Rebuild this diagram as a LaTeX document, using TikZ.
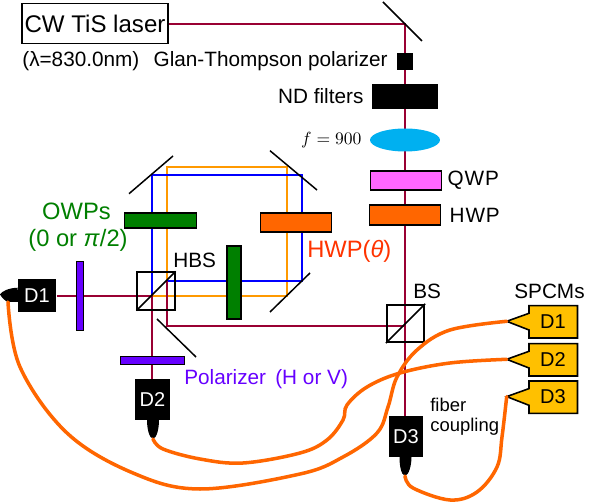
\documentclass[tikz,border=0pt]{standalone}
\usepackage[no-math]{fontspec}
\setmainfont{Liberation Sans}
\usepackage{xcolor}
\usepackage{tikz}
\usetikzlibrary{shapes.geometric, positioning, backgrounds, calc}
\definecolor{beamred}{HTML}{990033}
\definecolor{fibre}{HTML}{FF6600}
\definecolor{owpgreen}{HTML}{007F00}
\definecolor{polviolet}{HTML}{6600FF}
\definecolor{spcmyellow}{HTML}{FFC000}
\definecolor{lensblue}{HTML}{00B0F0}
\definecolor{armorange}{HTML}{FF9900}
\definecolor{armblue}{HTML}{0000FF}
\definecolor{qwppink}{HTML}{FF66FF}
\definecolor{hwpred}{HTML}{FF3300}
\tikzset{
  optic/.style={rectangle, inner sep=0pt, draw=black, line width=1.1pt},
  blackbox/.style={rectangle, inner sep=0pt, fill=black},
  detector/.style={blackbox, text=white, font=\fontsize{11.4}{13}\selectfont},
  cube/.style={rectangle, inner sep=0pt, draw=black, line width=1pt, minimum width=0.75cm, minimum height=0.75cm},
  mirror/.style={line width=0.85pt, black},
  beam/.style={beamred, line width=1.1pt},
  armline/.style={line width=1.1pt, line join=miter},
  fiber/.style={fibre, line width=2pt, line cap=round},
  spcm/.style={draw=black, fill=spcmyellow, line width=0.9pt, line join=miter},
  label/.style={inner sep=0pt, font=\fontsize{11.8}{14}\selectfont},
  biglabel/.style={inner sep=0pt, font=\fontsize{13.5}{16}\selectfont}
}
\begin{document}
\begin{tikzpicture}[x=0.02cm, y=-0.02cm]
\useasboundingbox (0,0) rectangle (599,503);
% Laser and input line
\node[rectangle, draw=black, line width=0.9pt, inner sep=0pt, minimum width=2.92cm, minimum height=0.8cm, font=\fontsize{13.7}{16}\selectfont] (laser) at (95,23.5) {CW TiS laser};
\node[blackbox, minimum width=0.33cm, minimum height=0.34cm] (gt) at (405,61.5) {};
\node[blackbox, minimum width=1.32cm, minimum height=0.5cm] (nd) at (405,96.5) {};
\node[ellipse, inner sep=0pt, fill=lensblue, minimum width=1.4cm, minimum height=0.46cm] (lens) at (405,140) {};
\node[optic, fill=qwppink, minimum width=1.42cm, minimum height=0.37cm] (qwp) at (406,180.5) {};
\node[optic, fill=fibre, minimum width=1.42cm, minimum height=0.39cm] (hwp) at (405,215) {};
\node[cube] (bs) at (405.5,323.5) {};
\draw[mirror] (bs.south west) -- (bs.north east);
\draw[mirror] (383,2) -- (422,41);

\node[label, anchor=west] (lam) at (22,61) {(λ=830.0nm)};
\node[label, left=4.8pt of gt] (gtlabel) {Glan-Thompson polarizer};
\node[label, left=4.5pt of nd] (ndlabel) {ND filters};
\node[left=4.5pt of lens, inner sep=0pt, font=\fontsize{9.7}{12}\selectfont] (flabel) {$f=900$};
\node[label, right=2.8pt of qwp, font=\fontsize{11.8}{14}\selectfont\addfontfeatures{LetterSpace=4}] (qwplabel) {QWP};
\node[label, right=4.5pt of hwp, font=\fontsize{11.8}{14}\selectfont\addfontfeatures{LetterSpace=4}] (hwplabel) {HWP};
\node[label, anchor=west] (bslabel) at (413,291) {BS};

% Interferometer
\node[optic, fill=owpgreen, minimum width=1.44cm, minimum height=0.29cm] (owpa) at (160.5,220.5) {};
\node[optic, fill=owpgreen, minimum width=0.27cm, minimum height=1.45cm] (owpb) at (234,282.5) {};
\node[optic, fill=fibre, minimum width=1.42cm, minimum height=0.38cm] (hwpt) at (296,222.5) {};
\node[cube] (hbs) at (156,291) {};
\draw[mirror] (hbs.south west) -- (hbs.north east);
\draw[mirror] (129,193.7) -- (173,156);
\draw[mirror] (270,150.7) -- (317,190);
\draw[mirror] (270,312) -- (310,273);
\draw[mirror] (157,319) -- (196,357);
\coordinate (topr) at (405,24);
\coordinate (bsin) at (166.7,326);
\coordinate (hbsr) at (166.7,281);
\coordinate (hbsl) at (152,296);
\coordinate (armt) at (152,175);

\node[biglabel, text=owpgreen, anchor=center] (owplabel) at (76.5,211) {OWPs};
\node[biglabel, text=owpgreen, anchor=center] (owpval) at (78,240) {(0 or \textit{π}/2)};
\node[label, anchor=west] (hbslabel) at (173,260) {HBS};
\node[biglabel, text=hwpred, anchor=west] (hwptlabel) at (307,251) {HWP(\textit{θ})};

% Detection arms
\node[detector, minimum width=0.78cm, minimum height=0.66cm] (da) at (37,295.5) {D1};
\node[detector, minimum width=0.7cm, minimum height=0.82cm] (db) at (152.5,399.5) {D2};
\node[detector, minimum width=0.68cm, minimum height=0.82cm] (dc) at (406,436.5) {D3};
\node[rectangle, inner sep=0pt, draw=black, fill=polviolet, line width=0.4pt, minimum width=0.14cm, minimum height=1.38cm] (pola) at (79.5,295.5) {};
\node[rectangle, inner sep=0pt, draw=black, fill=polviolet, line width=0.4pt, minimum width=1.28cm, minimum height=0.17cm] (polb) at (152,360.5) {};
\node[label, text=polviolet, anchor=west] (pollabel) at (184,379) {Polarizer\, (H or V)};

\fill[black] (17.7,287.7) .. controls (9,288) and (2,291) .. (0,294.5) .. controls (2,298) and (6,301.5) .. (8,302) -- (18,302) -- cycle;
\fill[black] (147,420) .. controls (147,428) and (149,438) .. (153,439) .. controls (157,438) and (159,428) .. (159,420) -- cycle;
\fill[black] (399.5,457) .. controls (399.5,465) and (401,475) .. (405,476) .. controls (409,475) and (411.5,465) .. (411.5,457) -- cycle;
\coordinate (tipa) at (8,302);
\coordinate (tipb) at (153,439);
\coordinate (tipc) at (405,476);

% Beams go under the optics
\begin{scope}[on background layer]
\draw[armorange, armline] (hbsr) -- (166.7,167) -- (287,167) -- (287,296) -- (hbsl);
\draw[armblue, armline] (hbsl) -- (armt) -- (302,175) -- (302,281) -- (hbsr);
\draw[beam] (topr -| laser.east) -- (topr) -- (topr |- dc.north);
\draw[beam] (topr |- bsin) -- (bsin) -- (hbsr);
\draw[beam] (hbsl -| da.east) -- (hbsl) -- (hbsl |- db.north);
\end{scope}

% SPCMs
\foreach \name/\top in {sa/305.7, sb/343.7, sc/381} {
  \draw[spcm] (529,\top) -- (577.5,\top) -- (577.5,\top+32.3) -- (529,\top+32.3) -- (529,\top+24.3) -- (506.7,\top+15.6) -- (529,\top+7.6) -- cycle;
  \coordinate (\name) at (506.7,\top+15.6);
}
\node[biglabel, font=\fontsize{11.4}{13}\selectfont] (sal) at (553,322) {D1};
\node[biglabel, font=\fontsize{11.4}{13}\selectfont] (sbl) at (553,360) {D2};
\node[biglabel, font=\fontsize{11.4}{13}\selectfont] (scl) at (553,397) {D3};
\node[label] (spcmlabel) at (549.5,291) {SPCMs};
\node[label, anchor=west, font=\fontsize{10.5}{12}\selectfont] (fiba) at (430,405) {fiber};
\node[label, anchor=west, font=\fontsize{10.5}{12}\selectfont] (fibb) at (430,427) {coupling};

% Fibers
\draw[fiber] plot[smooth, tension=0.6] coordinates {(tipa) (20,367) (67,433) (133,473) (200,489) (300,474) (343,457) (377,433) (388,407) (397,377) (417,350) (450,330) (sa)};
\draw[fiber] plot[smooth, tension=0.6] coordinates {(tipb) (163,449) (200,459) (243,463) (300,453) (327,440) (343,420) (347,405) (367,387) (400,373) (450,363) (sb)};
\draw[fiber] plot[smooth, tension=0.6] coordinates {(tipc) (413,488) (450,500) (477,492) (497,467) (502,437) (sc)};
\end{tikzpicture}
\end{document}
